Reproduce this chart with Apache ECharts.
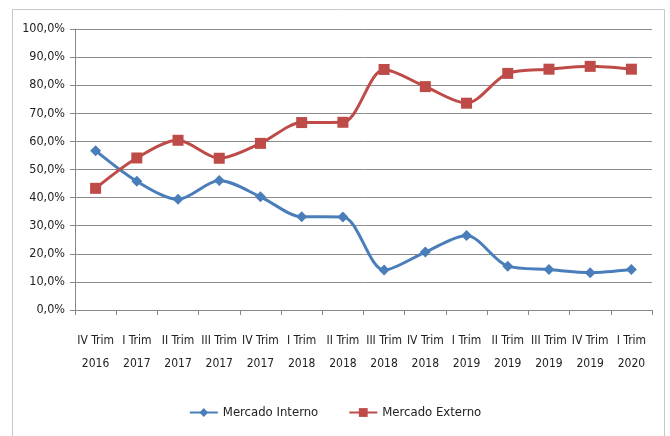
<!DOCTYPE html>
<html>
<head>
<meta charset="utf-8">
<script src="https://cdn.jsdelivr.net/npm/echarts@6/dist/echarts.min.js"></script>
<style>
  html, body { margin: 0; padding: 0; background: #fff; }
  #chart { width: 670px; height: 436px; }
</style>
</head>
<body>
<div id="chart"></div>
<script>
// datos
var trimestres = ['IV Trim\n2016', 'I Trim\n2017', 'II Trim\n2017', 'III Trim\n2017', 'IV Trim\n2017',
  'I Trim\n2018', 'II Trim\n2018', 'III Trim\n2018', 'IV Trim\n2018', 'I Trim\n2019',
  'II Trim\n2019', 'III Trim\n2019', 'IV Trim\n2019', 'I Trim\n2020'];
var mercadoInterno = [56.7, 45.8, 39.4, 46.1, 40.3, 33.2, 33.1, 14.2, 20.6, 26.5, 15.6, 14.4, 13.3, 14.4];
var mercadoExterno = [43.3, 54.1, 60.4, 54.0, 59.3, 66.7, 66.8, 85.6, 79.5, 73.6, 84.2, 85.7, 86.7, 85.7];

var fuente = '"Liberation Sans Narrow", "DejaVu Sans Condensed", "Open Sans", sans-serif';

var getOption = () => {
  return {
    backgroundColor: '#fff',
    textStyle: { fontFamily: fuente },
    animation: false,
    graphic: [
      {
        type: 'rect',
        shape: { x: 12.5, y: 9.5, width: 652, height: 440 },
        style: { fill: 'none', stroke: '#c8c8c8', lineWidth: 1 },
      },
    ],
    grid: {
      left: 75,
      right: 18,
      top: 29,
      bottom: 126,
    },
    legend: {
      bottom: 12,
      left: 'center',
      itemWidth: 28,
      itemHeight: 11,
      itemGap: 30,
      textStyle: { fontFamily: fuente, fontSize: 13, color: '#222' },
      data: ['Mercado Interno', 'Mercado Externo'],
    },
    xAxis: {
      type: 'category',
      boundaryGap: true,
      data: trimestres,
      axisLine: { lineStyle: { color: '#888' } },
      axisTick: { show: true, alignWithLabel: false, length: 5, lineStyle: { color: '#888' } },
      axisLabel: {
        interval: 0,
        margin: 19,
        fontFamily: fuente,
        fontSize: 12,
        lineHeight: 23,
        color: '#222',
      },
    },
    yAxis: {
      type: 'value',
      min: 0,
      max: 100,
      interval: 10,
      axisLine: { show: true, lineStyle: { color: '#888' } },
      axisTick: { show: true, length: 5, lineStyle: { color: '#888' } },
      splitLine: { lineStyle: { color: '#8c8c8c', width: 1 } },
      axisLabel: {
        margin: 10,
        fontFamily: fuente,
        fontSize: 12.5,
        color: '#222',
        formatter: (v) => v.toFixed(1).replace('.', ',') + '%',
      },
    },
    series: [
      {
        name: 'Mercado Interno',
        type: 'line',
        data: mercadoInterno,
        smooth: 0.3,
        symbol: 'diamond',
        symbolSize: 11,
        color: '#4A7EBB',
        lineStyle: { width: 3, color: '#4A7EBB' },
        itemStyle: { color: '#4A7EBB' },
      },
      {
        name: 'Mercado Externo',
        type: 'line',
        data: mercadoExterno,
        smooth: 0.3,
        symbol: 'rect',
        symbolSize: 11,
        color: '#BE4B48',
        lineStyle: { width: 3, color: '#BE4B48' },
        itemStyle: { color: '#BE4B48' },
      },
    ],
  };
};

var initChart = () => {
  var chart = echarts.init(document.getElementById('chart'));
  chart.setOption(getOption());
};

window.addEventListener('load', () => {
  initChart();
});
</script>
</body>
</html>
